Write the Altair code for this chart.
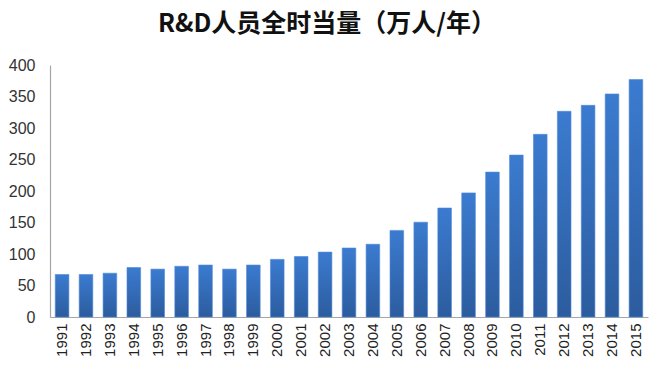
import altair as alt
import pandas as pd

years = [str(y) for y in range(1991, 2016)]
values = [67.5, 67.5, 69.5, 78.5, 76, 80.5, 82.5, 76, 82.5, 91.5, 96, 103, 109.5,
          115.5, 137.5, 150.5, 173, 197, 230, 257, 290, 326.5, 336, 354, 377]
y_ticks = [0, 50, 100, 150, 200, 250, 300, 350, 400]
title_text = "R&D人员全时当量（万人/年）"

df = pd.DataFrame({"year": years, "value": values})

grad = alt.LinearGradient(
    gradient="linear",
    stops=[alt.GradientStop(color="#3b7bd0", offset=0),
           alt.GradientStop(color="#2c5c9e", offset=1)],
    x1=0, x2=0, y1=0, y2=1,
)

chart = alt.Chart(df).mark_bar(color=grad, stroke="#4f8ad8", strokeWidth=0.6).encode(
    x=alt.X("year:N", sort=years, title=None,
            scale=alt.Scale(paddingInner=0.43, paddingOuter=0.22),
            axis=alt.Axis(labelAngle=270, labelAlign="right", labelBaseline="middle",
                          labelPadding=6, ticks=False, domainColor="#a6a6a6",
                          domainWidth=1.2, labelFont="Liberation Sans", labelFontSize=15,
                          labelColor="#222222")),
    y=alt.Y("value:Q", title=None,
            scale=alt.Scale(domain=[0, 400], nice=False),
            axis=alt.Axis(values=y_ticks, grid=False, ticks=False, labelPadding=15,
                          domainColor="#a6a6a6", domainWidth=1.2,
                          labelFont="Liberation Sans", labelFontSize=16,
                          labelColor="#333333")),
).properties(
    width=598,
    height=252,
    title=alt.TitleParams(title_text, font="Noto Sans CJK SC", fontSize=25,
                          fontWeight="bold", color="#111111", anchor="middle",
                          offset=20, dx=-22),
    autosize=alt.AutoSizeParams(type="none"),
    padding={"left": 42, "top": 57, "right": 4, "bottom": 50},
).configure_view(stroke=None)

chart.save("out.html", embed_options={"renderer": "svg", "actions": False})
